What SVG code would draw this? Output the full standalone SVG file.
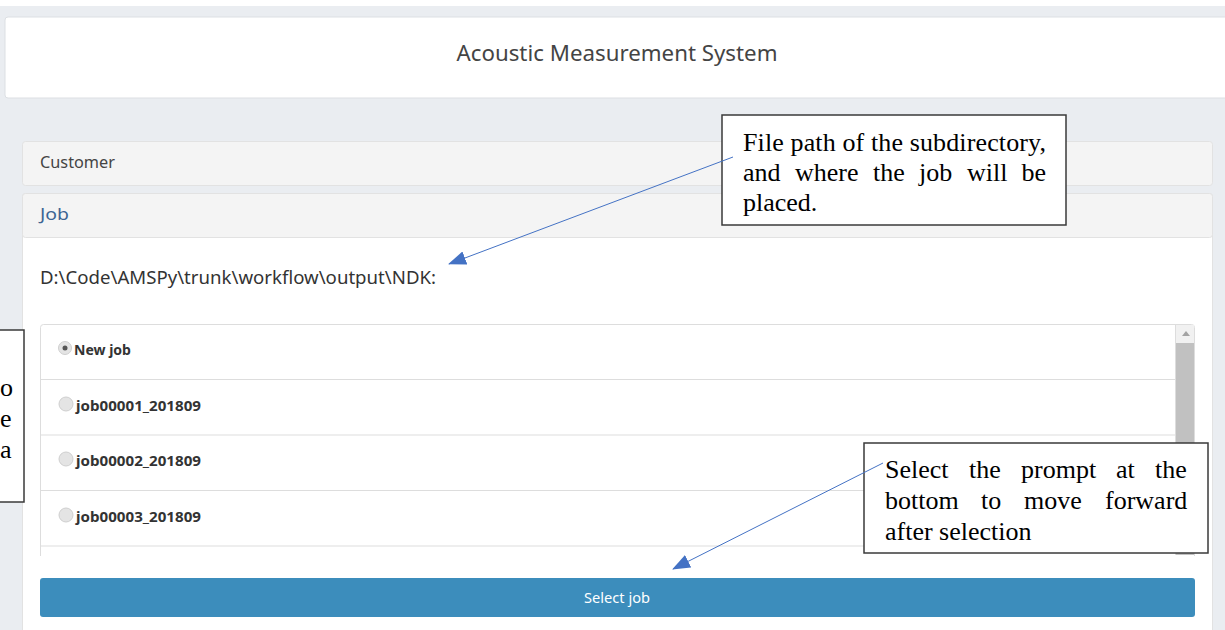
<svg xmlns="http://www.w3.org/2000/svg" width="1225" height="630" viewBox="0 0 1225 630">
  <style>
    .ui { font-family: "Noto Sans", "Open Sans", sans-serif; }
    .note { font-family: "Liberation Serif", "Times New Roman", serif; font-size: 26px; fill: #000; }
    .panel-head { fill: #f4f4f4; stroke: #e2e2e2; stroke-width: 1; }
    .row-sep { stroke: #dddddd; stroke-width: 1; }
    .radio { fill: #e4e4e4; stroke: #cfcfcf; stroke-width: 1; }
    .item { font-size: 14px; font-weight: bold; fill: #333; }
    .callout { fill: #ffffff; stroke: #3a3a3a; stroke-width: 1.5; }
    .lead { stroke: #4472c4; stroke-width: 1; fill: none; }
  </style>
  <defs>
    <marker id="arrow" markerWidth="18" markerHeight="14" refX="17" refY="7" orient="auto" markerUnits="userSpaceOnUse">
      <path d="M0,0 L18,7 L0,14 Z" fill="#4472c4"/>
    </marker>
  </defs>

  <!-- page background -->
  <rect x="0" y="0" width="1225" height="630" fill="#ffffff"/>
  <rect x="0" y="6" width="1225" height="624" fill="#eaedf1"/>

  <!-- header card -->
  <g id="header">
    <rect x="5" y="17" width="1230" height="81" rx="3" fill="#ffffff" stroke="#dcdfe3"/>
    <text class="ui" x="617" y="61" font-size="22" fill="#444" text-anchor="middle" textLength="321" lengthAdjust="spacingAndGlyphs">Acoustic Measurement System</text>
  </g>

  <!-- customer panel -->
  <g id="customer">
    <rect class="panel-head" x="22.5" y="141.5" width="1190" height="44" rx="3"/>
    <text class="ui" x="40" y="168" font-size="16" fill="#444" textLength="75" lengthAdjust="spacingAndGlyphs">Customer</text>
  </g>

  <!-- job panel -->
  <g id="job">
    <rect x="22.5" y="193.5" width="1190" height="450" rx="3" fill="#ffffff" stroke="#e2e2e2"/>
    <rect class="panel-head" x="22.5" y="193.5" width="1190" height="44" rx="3"/>
    <text class="ui" x="40" y="220" font-size="16" fill="#3d6593" textLength="29" lengthAdjust="spacingAndGlyphs">Job</text>
    <text class="ui" x="40" y="284" font-size="18" fill="#333" textLength="396" lengthAdjust="spacingAndGlyphs">D:\Code\AMSPy\trunk\workflow\output\NDK:</text>
  </g>

  <!-- job list -->
  <g id="job-list">
    <rect x="40.5" y="324.5" width="1154" height="240" rx="3" fill="#ffffff" stroke="#dddddd"/>
    <line class="row-sep" x1="41" y1="379.5" x2="1175" y2="379.5"/>
    <line class="row-sep" x1="41" y1="435" x2="1175" y2="435"/>
    <line class="row-sep" x1="41" y1="490.5" x2="1175" y2="490.5"/>
    <line class="row-sep" x1="41" y1="546" x2="1175" y2="546"/>
    <line class="row-sep" x1="1175.5" y1="325" x2="1175.5" y2="555"/>
    <!-- scrollbar -->
    <rect x="1176" y="325" width="18" height="18" fill="#f1f1f1"/>
    <path d="M1182,336 L1190,336 L1186,331 Z" fill="#a3a3a3"/>
    <rect x="1176" y="343" width="18" height="212" fill="#c1c1c1"/>

    <g id="item-new">
      <circle class="radio" cx="65" cy="348" r="6.5"/>
      <circle cx="65" cy="348" r="2.5" fill="#555"/>
      <text class="ui item" x="74" y="355" textLength="57" lengthAdjust="spacingAndGlyphs">New job</text>
    </g>
    <g id="item-1">
      <circle class="radio" cx="66" cy="404" r="7"/>
      <text class="ui item" x="76" y="411" textLength="125" lengthAdjust="spacingAndGlyphs">job00001_201809</text>
    </g>
    <g id="item-2">
      <circle class="radio" cx="66" cy="459" r="7"/>
      <text class="ui item" x="76" y="466" textLength="125" lengthAdjust="spacingAndGlyphs">job00002_201809</text>
    </g>
    <g id="item-3">
      <circle class="radio" cx="66" cy="515" r="7"/>
      <text class="ui item" x="76" y="522" textLength="125" lengthAdjust="spacingAndGlyphs">job00003_201809</text>
    </g>
  </g>

  <!-- white band hiding the scrolled part of the list -->
  <rect x="23" y="556" width="1189" height="74" fill="#ffffff"/>
  <line x1="40.5" y1="546" x2="40.5" y2="556" stroke="#dddddd"/>

  <!-- select button -->
  <g id="select-button">
    <rect x="40" y="578" width="1155" height="39" rx="3" fill="#3c8dbc"/>
    <text class="ui" x="617" y="603" font-size="14" fill="#ffffff" text-anchor="middle" textLength="66" lengthAdjust="spacingAndGlyphs">Select job</text>
  </g>

  <!-- callout on the left edge -->
  <g id="callout-left">
    <rect class="callout" x="-100" y="330" width="124" height="172"/>
    <text class="note" x="0" y="396">o</text>
    <text class="note" x="0" y="427">e</text>
    <text class="note" x="0" y="458">a</text>
  </g>

  <!-- callout: file path (justified lines) -->
  <g id="callout-path">
    <rect class="callout" x="722" y="115" width="344" height="110"/>
    <text class="note" x="743" y="151" textLength="303" lengthAdjust="spacing">File path of the subdirectory,</text>
    <text class="note" y="181"><tspan x="743">and</tspan><tspan x="795">where</tspan><tspan x="873">the</tspan><tspan x="919">job</tspan><tspan x="967">will</tspan><tspan x="1021.5">be</tspan></text>
    <text class="note" x="743" y="211">placed.</text>
  </g>

  <!-- callout: select prompt (justified lines) -->
  <g id="callout-select">
    <rect class="callout" x="864" y="443" width="344" height="110"/>
    <text class="note" y="478"><tspan x="885">Select</tspan><tspan x="969">the</tspan><tspan x="1021">prompt</tspan><tspan x="1116">at</tspan><tspan x="1155">the</tspan></text>
    <text class="note" y="509"><tspan x="885">bottom</tspan><tspan x="981">to</tspan><tspan x="1024">move</tspan><tspan x="1105">forward</tspan></text>
    <text class="note" x="885" y="540">after selection</text>
  </g>

  <!-- connectors -->
  <g id="connectors">
    <line class="lead" x1="733" y1="157" x2="449" y2="264" marker-end="url(#arrow)"/>
    <line class="lead" x1="883" y1="463" x2="673" y2="569" marker-end="url(#arrow)"/>
  </g>
</svg>
